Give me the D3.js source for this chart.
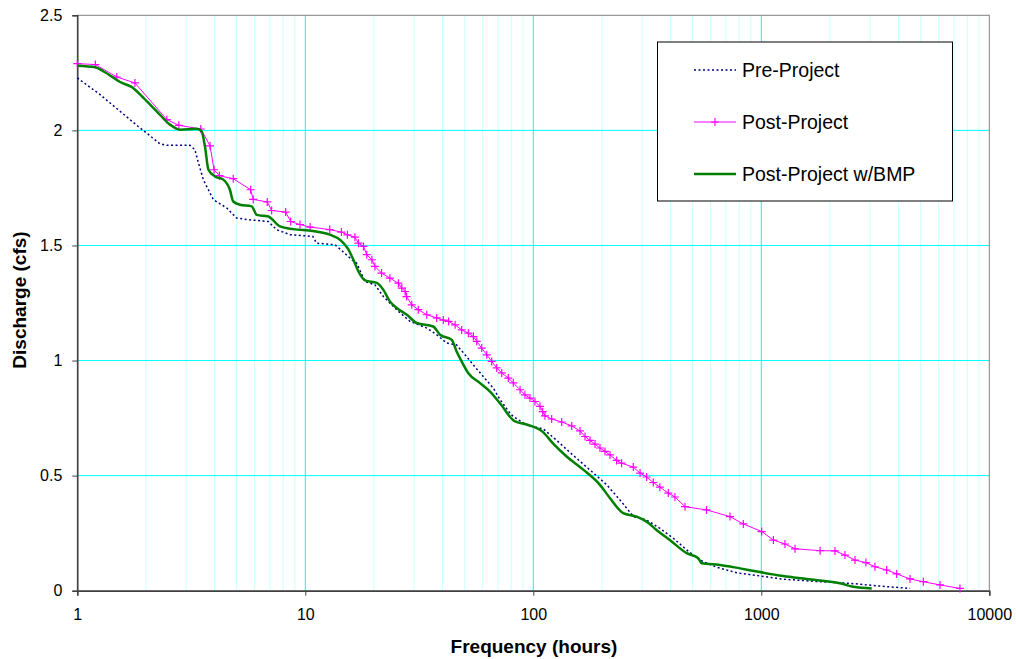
<!DOCTYPE html>
<html>
<head>
<meta charset="utf-8">
<script src="https://cdn.jsdelivr.net/npm/d3@7"></script>
<style>
  body { margin: 0; background: #fff; }
  text { font-family: Arial, "Liberation Sans", sans-serif; fill: #000; }
</style>
</head>
<body>
<script>
// Flow duration data: [hours, cfs]
var prePoints = [
  [1, 2.228], [1.26, 2.155], [1.54, 2.083], [1.85, 2.017], [2.01, 1.989], [2.3, 1.942],
  [2.47, 1.935], [3.12, 1.935], [3.28, 1.916], [3.4, 1.858], [3.57, 1.786], [3.95, 1.699],
  [4.52, 1.663], [5.0, 1.619], [5.62, 1.612], [6.88, 1.604], [7.5, 1.568], [8.57, 1.547],
  [10.8, 1.539], [11.2, 1.51], [13.5, 1.503], [14.6, 1.474], [16, 1.438], [16.8, 1.423],
  [18.3, 1.343], [20.2, 1.329], [22, 1.278], [25.2, 1.22], [28.8, 1.17], [34.1, 1.141],
  [37.7, 1.112], [41.7, 1.076], [46.1, 1.068], [50.2, 1.025], [53.7, 0.989], [60.4, 0.93],
  [66.8, 0.88], [71.5, 0.83], [79, 0.771], [81.6, 0.757], [93.5, 0.72], [110.6, 0.703],
  [127, 0.652], [150, 0.587], [177, 0.525], [210, 0.46], [240, 0.394], [275, 0.322],
  [314, 0.307], [359, 0.271], [411, 0.228], [471, 0.177], [538, 0.133], [637, 0.102],
  [780, 0.078], [986, 0.064], [1249, 0.05], [1750, 0.04], [2450, 0.032], [3317, 0.02],
  [4490, 0.01]
];

var postPoints = [
  [1, 2.29], [1.2, 2.286], [1.49, 2.232], [1.79, 2.206], [2.47, 2.047], [2.79, 2.022],
  [3.48, 2.006], [3.82, 1.933], [3.98, 1.829], [4.2, 1.803], [4.83, 1.79], [5.76, 1.742],
  [5.91, 1.70], [6.81, 1.689], [7.12, 1.652], [8.2, 1.645], [8.63, 1.604], [9.48, 1.591],
  [10.5, 1.58], [12.8, 1.569], [14.4, 1.558], [15.3, 1.546], [16.5, 1.536], [17.1, 1.51],
  [18, 1.496], [18.6, 1.46], [19.6, 1.438], [20.2, 1.409], [21.6, 1.38], [23.5, 1.358],
  [25.6, 1.336], [26.5, 1.315], [27.4, 1.30], [27.8, 1.278], [29.3, 1.242], [31.3, 1.221],
  [34.1, 1.199], [37.7, 1.185], [40.3, 1.176], [42.5, 1.17], [45.4, 1.155], [48.5, 1.133],
  [51.9, 1.119], [54.6, 1.104], [56.5, 1.083], [59.4, 1.054], [62.5, 1.025], [65.7, 0.996],
  [69.1, 0.968], [72.7, 0.946], [77.7, 0.924], [81.7, 0.903], [87.5, 0.873], [91.9, 0.851],
  [96.7, 0.837], [101.7, 0.822], [107, 0.801], [110, 0.778], [112.5, 0.76], [120.4, 0.746],
  [133.2, 0.733], [147.4, 0.716], [160.3, 0.694], [168.6, 0.67], [177.3, 0.653], [186.5, 0.637],
  [196.1, 0.62], [206.3, 0.605], [217, 0.59], [232, 0.566], [244, 0.554], [274.5, 0.537],
  [294, 0.511], [314, 0.494], [336, 0.47], [359, 0.45], [391, 0.424], [418, 0.407],
  [463, 0.365], [575, 0.351], [729, 0.322], [834, 0.29], [1004, 0.257], [1130, 0.22],
  [1270, 0.203], [1406, 0.182], [1811, 0.174], [2104, 0.173], [2328, 0.155], [2576, 0.133],
  [2877, 0.122], [3150, 0.104], [3545, 0.09], [3923, 0.073], [4490, 0.051], [5135, 0.039],
  [6080, 0.025], [7434, 0.01]
];

var bmpPoints = [
  [1, 2.281], [1.2, 2.274], [1.3, 2.257], [1.57, 2.206], [1.73, 2.189], [1.95, 2.141],
  [2.23, 2.083], [2.55, 2.025], [2.82, 2.003], [3.34, 2.007], [3.51, 1.996], [3.63, 1.93],
  [3.76, 1.829], [4.02, 1.80], [4.37, 1.786], [4.67, 1.742], [4.83, 1.691], [5.17, 1.677],
  [5.82, 1.67], [6.12, 1.633], [6.88, 1.626], [7.74, 1.583], [8.86, 1.571], [10.8, 1.563],
  [12.8, 1.547], [14.3, 1.522], [15.4, 1.485], [16.2, 1.441], [17.1, 1.387], [18.3, 1.348],
  [20.6, 1.337], [22, 1.307], [23.5, 1.257], [25.2, 1.228], [27.9, 1.199], [30.8, 1.163],
  [36.4, 1.148], [39, 1.112], [43.9, 1.09], [46.1, 1.039], [48.5, 0.996], [51.9, 0.945],
  [58.4, 0.902], [64.6, 0.865], [72, 0.81], [82.4, 0.738], [95, 0.72], [110, 0.69],
  [122, 0.64], [140, 0.583], [166, 0.525], [196, 0.46], [217, 0.402], [248, 0.337],
  [284, 0.322], [314, 0.30], [347, 0.264], [397, 0.22], [471, 0.163], [529, 0.141],
  [548, 0.119], [659, 0.112], [807, 0.097], [986, 0.081], [1249, 0.064], [1581, 0.051],
  [2214, 0.032], [2533, 0.017], [3050, 0.01]
];

var xTicks = [1, 10, 100, 1000, 10000];
var yTicks = [0, 0.5, 1, 1.5, 2, 2.5];
var seriesNames = ["Pre-Project", "Post-Project", "Post-Project w/BMP"];

var width = 1016, height = 659;
var plotLeft = 77.3, plotRight = 989.3, plotTop = 15.3, plotBottom = 590.7;

var svg = d3.select("body").append("svg")
    .attr("width", width)
    .attr("height", height);

var x = d3.scaleLog().domain([1, 10000]).range([plotLeft, plotRight]);
var y = d3.scaleLinear().domain([0, 2.5]).range([plotBottom, plotTop]);

// minor vertical grid
var minor = [];
[1, 10, 100, 1000].forEach(function(d) {
  for (var k = 2; k <= 9; k++) minor.push(d * k);
});
svg.append("g").selectAll("line")
    .data(minor)
    .enter().append("line")
    .attr("x1", function(d) { return x(d); })
    .attr("x2", function(d) { return x(d); })
    .attr("y1", plotTop).attr("y2", plotBottom)
    .attr("stroke", "#ccffff").attr("stroke-width", 1);

// major grid
svg.append("g").selectAll("line")
    .data([10, 100, 1000])
    .enter().append("line")
    .attr("x1", function(d) { return x(d); })
    .attr("x2", function(d) { return x(d); })
    .attr("y1", plotTop).attr("y2", plotBottom)
    .attr("stroke", "#00ffff").attr("stroke-width", 1);

svg.append("g").selectAll("line")
    .data([0.5, 1, 1.5, 2])
    .enter().append("line")
    .attr("x1", plotLeft).attr("x2", plotRight)
    .attr("y1", function(d) { return y(d); })
    .attr("y2", function(d) { return y(d); })
    .attr("stroke", "#00ffff").attr("stroke-width", 1);

// plot border
svg.append("rect")
    .attr("x", plotLeft).attr("y", plotTop)
    .attr("width", plotRight - plotLeft).attr("height", plotBottom - plotTop)
    .attr("fill", "none").attr("stroke", "#808080").attr("stroke-width", 1);

// axes
var yAxis = d3.axisLeft(y).tickValues(yTicks).tickSize(5).tickPadding(10)
    .tickFormat(function(d) { return d; });
var gy = svg.append("g").attr("transform", "translate(" + plotLeft + ",0)").call(yAxis);

var xAxis = d3.axisBottom(x).tickValues(xTicks).tickSize(5).tickPadding(13)
    .tickFormat(function(d) { return d; });
var gx = svg.append("g").attr("transform", "translate(0," + plotBottom + ")").call(xAxis);

[gx, gy].forEach(function(g) {
  g.select(".domain").attr("stroke", "#404040").attr("stroke-width", 1.5);
  g.selectAll(".tick line").attr("stroke", "#404040");
  g.selectAll("text").style("font-size", "16px").style("fill", "#000")
    .style("font-family", "Arial, 'Liberation Sans', sans-serif");
});

// series lines
var straight = d3.line()
    .x(function(d) { return x(d[0]); })
    .y(function(d) { return y(d[1]); });
var smooth = d3.line()
    .x(function(d) { return x(d[0]); })
    .y(function(d) { return y(d[1]); })
    .curve(d3.curveMonotoneX);

svg.append("path")
    .datum(prePoints)
    .attr("d", straight)
    .attr("fill", "none")
    .attr("stroke", "#000080")
    .attr("stroke-width", 1.5)
    .attr("stroke-dasharray", "2,2.5");

svg.append("path")
    .datum(postPoints)
    .attr("d", straight)
    .attr("fill", "none")
    .attr("stroke", "#ff00ff")
    .attr("stroke-width", 1);

svg.append("g").selectAll("path")
    .data(postPoints)
    .enter().append("path")
    .attr("transform", function(d) { return "translate(" + x(d[0]) + "," + y(d[1]) + ")"; })
    .attr("d", "M-4,0H4M0,-4V4")
    .attr("stroke", "#ff00ff")
    .attr("stroke-width", 1.2);

svg.append("path")
    .datum(bmpPoints)
    .attr("d", smooth)
    .attr("fill", "none")
    .attr("stroke", "#008000")
    .attr("stroke-width", 2.5);

// legend
var legend = svg.append("g");
legend.append("rect")
    .attr("x", 657.5).attr("y", 42)
    .attr("width", 295).attr("height", 159)
    .attr("fill", "#fff").attr("stroke", "#000").attr("stroke-width", 1);

var legendY = [70, 122, 174];
var item = legend.selectAll("g.item")
    .data(seriesNames)
    .enter().append("g").attr("class", "item")
    .attr("transform", function(d, i) { return "translate(0," + legendY[i] + ")"; });

item.append("text")
    .attr("x", 742).attr("y", 6.5)
    .style("font-size", "19.5px")
    .text(function(d) { return d; });

item.filter(function(d, i) { return i === 0; }).append("line")
    .attr("x1", 694).attr("x2", 736).attr("y1", 0).attr("y2", 0)
    .attr("stroke", "#000080").attr("stroke-width", 1.5).attr("stroke-dasharray", "2,2.5");

var postItem = item.filter(function(d, i) { return i === 1; });
postItem.append("line")
    .attr("x1", 694).attr("x2", 736).attr("y1", 0).attr("y2", 0)
    .attr("stroke", "#ff00ff").attr("stroke-width", 1);
postItem.append("path")
    .attr("d", "M711,0H719M715,-4V4")
    .attr("stroke", "#ff00ff").attr("stroke-width", 1.2);

item.filter(function(d, i) { return i === 2; }).append("line")
    .attr("x1", 694).attr("x2", 736).attr("y1", 0).attr("y2", 0)
    .attr("stroke", "#008000").attr("stroke-width", 2.5);

// axis titles
svg.append("text")
    .attr("x", 534).attr("y", 653)
    .attr("text-anchor", "middle")
    .style("font-size", "19px").style("font-weight", "bold")
    .text("Frequency (hours)");

svg.append("text")
    .attr("transform", "translate(26,300) rotate(-90)")
    .attr("text-anchor", "middle")
    .style("font-size", "19px").style("font-weight", "bold")
    .text("Discharge (cfs)");
</script>
</body>
</html>
